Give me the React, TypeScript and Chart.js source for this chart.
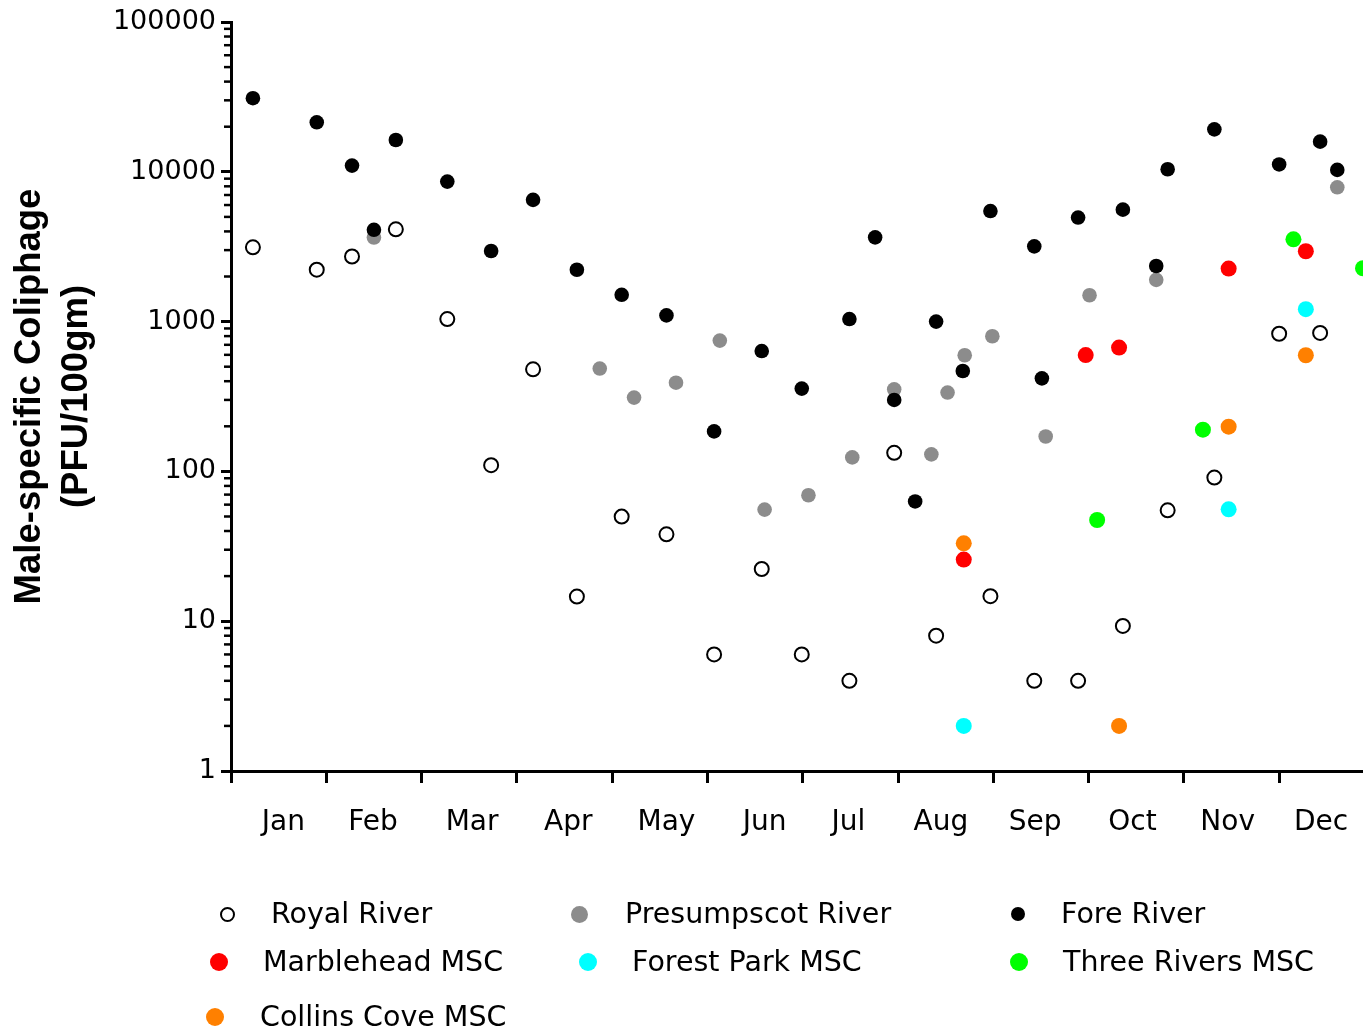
import React, { useEffect, useRef } from 'react';
import { Chart, registerables } from 'chart.js';

Chart.register(...registerables);

// x positions are in month units (0 = start of January)
const monthLabels = ['Jan', 'Feb', 'Mar', 'Apr', 'May', 'Jun', 'Jul', 'Aug', 'Sep', 'Oct', 'Nov', 'Dec'];
const monthLabelAt = [0.55, 1.49, 2.53, 3.54, 4.57, 5.6, 6.48, 7.45, 8.44, 9.46, 10.46, 11.44];
const monthStarts = [0, 1, 2, 3, 4, 5, 6, 7, 8, 9, 10, 11];
const yTickValues = [1, 10, 100, 1000, 10000, 100000];

const royalX = [0.23, 0.9, 1.27, 1.73, 2.27, 2.73, 3.17, 3.63, 4.1, 4.57, 5.07, 5.57, 5.99, 6.49, 6.96, 7.4, 7.97, 8.43, 8.89, 9.36, 9.83, 10.32, 11.0, 11.43];
const royalY = [3130, 2220, 2720, 4130, 1040, 110, 480, 14.6, 49.9, 38, 6, 22.3, 6, 4, 133, 8, 14.7, 4, 4, 9.3, 55, 91, 830, 840];

const presX = [1.5, 3.87, 4.23, 4.67, 5.13, 5.6, 6.06, 6.52, 6.96, 7.35, 7.52, 7.7, 7.99, 8.55, 9.01, 9.71, 11.61];
const presY = [3640, 486, 311, 391, 747, 55.6, 69.3, 124, 353, 130, 336, 596, 798, 171, 1500, 1900, 7880];

const foreX = [0.23, 0.9, 1.27, 1.73, 1.5, 2.27, 2.73, 3.17, 3.63, 4.1, 4.57, 5.07, 5.57, 5.99, 6.49, 6.76, 6.96, 7.18, 7.4, 7.68, 7.97, 8.43, 8.51, 8.89, 9.36, 9.71, 9.83, 10.32, 11.0, 11.43, 11.61];
const foreY = [31000, 21400, 11000, 16300, 4100, 8600, 2960, 6500, 2220, 1510, 1100, 185, 636, 357, 1040, 3650, 300, 63, 1000, 468, 5470, 3180, 418, 4950, 5590, 2350, 10400, 19200, 11200, 15900, 10300];

const marbX = [7.69, 8.97, 9.32, 10.47, 11.28];
const marbY = [25.8, 598, 671, 2260, 2950];

const forestX = [7.69, 10.47, 11.28];
const forestY = [2, 55.8, 1210];

const threeX = [9.09, 10.2, 11.15, 11.88];
const threeY = [47.4, 190, 3540, 2270];

const collinsX = [7.69, 9.32, 10.47, 11.28];
const collinsY = [33.1, 2, 199, 596];

const seriesNames = ['Royal River', 'Presumpscot River', 'Fore River', 'Marblehead MSC', 'Forest Park MSC', 'Three Rivers MSC', 'Collins Cove MSC'];
const seriesColors = ['#ffffff', '#8c8c8c', '#000000', '#ff0000', '#00ffff', '#00ff00', '#ff8000'];

const toPoints = (xs: number[], ys: number[]) => xs.map((x, i) => ({ x, y: ys[i] }));

const minorValues: number[] = [];
for (let d = 0; d < 5; d++) {
  for (let k = 2; k <= 9; k++) minorValues.push(k * Math.pow(10, d));
}

const minorTickPlugin = {
  id: 'minorTicks',
  afterDraw(chart: any) {
    const y = chart.scales.y;
    const ctx = chart.ctx;
    const left = chart.chartArea.left;
    ctx.save();
    ctx.strokeStyle = '#000';
    ctx.lineWidth = 2.5;
    for (const v of minorValues) {
      const py = y.getPixelForValue(v);
      ctx.beginPath();
      ctx.moveTo(left - 7, py);
      ctx.lineTo(left, py);
      ctx.stroke();
    }
    ctx.restore();
  },
};

const legendLayout = [
  { left: 227, text: 271, top: 914, size: 15 },
  { left: 579, text: 625, top: 914, size: 17 },
  { left: 1018, text: 1061, top: 914, size: 14 },
  { left: 219, text: 263, top: 962, size: 18 },
  { left: 588, text: 632, top: 962, size: 18 },
  { left: 1019, text: 1063, top: 962, size: 18 },
  { left: 215, text: 260, top: 1017, size: 18 },
];

export default function App() {
  const ref = useRef<HTMLCanvasElement>(null);

  useEffect(() => {
    if (!ref.current) return;
    const xsList = [royalX, presX, foreX, marbX, forestX, threeX, collinsX];
    const ysList = [royalY, presY, foreY, marbY, forestY, threeY, collinsY];
    const orders = [0, 6, 5, 1, 3, 4, 2];
    const datasets = seriesNames.map((name, i) => ({
      label: name,
      data: toPoints(xsList[i], ysList[i]),
      backgroundColor: seriesColors[i],
      borderColor: i === 0 ? '#000000' : seriesColors[i],
      borderWidth: i === 0 ? 2 : 0,
      pointRadius: i === 0 ? 7 : i >= 3 ? 8 : 7.3,
      pointHoverRadius: i === 0 ? 7 : 7.5,
      order: orders[i],
    }));

    const chart = new Chart(ref.current, {
      type: 'scatter',
      data: { datasets },
      plugins: [minorTickPlugin],
      options: {
        animation: false,
        responsive: false,
        events: [],
        layout: { autoPadding: false, padding: { top: 22, right: 0, bottom: 0, left: 0 } },
        plugins: {
          legend: { display: false },
          tooltip: { enabled: false },
        },
        scales: {
          x: {
            type: 'linear',
            min: 0,
            max: 11.88,
            afterBuildTicks: (scale: any) => {
              const t: { value: number }[] = [];
              monthStarts.forEach((m, i) => {
                t.push({ value: m });
                t.push({ value: monthLabelAt[i] });
              });
              scale.ticks = t;
            },
            afterFit: (scale: any) => {
              scale.height = 263;
              scale.paddingLeft = 0;
              scale.paddingRight = 0;
            },
            grid: {
              drawOnChartArea: false,
              tickLength: 12,
              tickWidth: 3,
              tickColor: (ctx: any) =>
                ctx.tick && Number.isInteger(ctx.tick.value) ? '#000000' : 'rgba(0,0,0,0)',
            },
            border: { display: true, color: '#000000', width: 3 },
            ticks: {
              autoSkip: false,
              maxRotation: 0,
              minRotation: 0,
              padding: 23,
              color: '#000000',
              font: { family: 'DejaVu Sans', size: 28 },
              callback: (v: any) => {
                const idx = monthLabelAt.indexOf(Number(v));
                return idx >= 0 ? monthLabels[idx] : '';
              },
            },
          },
          y: {
            type: 'logarithmic',
            min: 1,
            max: 100000,
            afterBuildTicks: (scale: any) => {
              scale.ticks = yTickValues.map((v) => ({ value: v }));
            },
            afterFit: (scale: any) => {
              scale.width = 231;
              scale.paddingTop = 0;
              scale.paddingBottom = 0;
            },
            grid: {
              drawOnChartArea: false,
              tickLength: 10,
              tickWidth: 3,
              tickColor: '#000000',
            },
            border: { display: true, color: '#000000', width: 3 },
            ticks: {
              padding: 5,
              color: '#000000',
              font: { family: 'DejaVu Sans', size: 27 },
              callback: (v: any) => String(v),
            },
            title: {
              display: true,
              text: ['Male-specific Coliphage', '(PFU/100gm)'],
              color: '#000000',
              font: { family: 'Liberation Sans', size: 36.5, weight: 'bold', lineHeight: 1.3 },
              padding: { top: 6, bottom: 0 },
            },
          },
        },
      },
    });
    return () => chart.destroy();
  }, []);

  return (
    <div style={{ position: 'absolute', left: 0, top: 0, width: 1363, height: 1034, background: '#fff', overflow: 'hidden' }}>
      <canvas ref={ref} width={1363} height={1034} style={{ position: 'absolute', left: 0, top: 0 }} />
      {seriesNames.map((name, i) => {
        const L = legendLayout[i];
        return (
          <React.Fragment key={name}>
            <div
              style={{
                position: 'absolute',
                left: L.left - L.size / 2,
                top: L.top - L.size / 2,
                width: L.size,
                height: L.size,
                borderRadius: '50%',
                boxSizing: 'border-box',
                background: seriesColors[i],
                border: i === 0 ? '2px solid #000' : 'none',
              }}
            />
            <div
              style={{
                position: 'absolute',
                left: L.text,
                top: L.top - 14,
                height: 28,
                lineHeight: '28px',
                fontFamily: 'DejaVu Sans',
                fontSize: 28.5,
                color: '#000',
                whiteSpace: 'nowrap',
              }}
            >
              {name}
            </div>
          </React.Fragment>
        );
      })}
    </div>
  );
}
